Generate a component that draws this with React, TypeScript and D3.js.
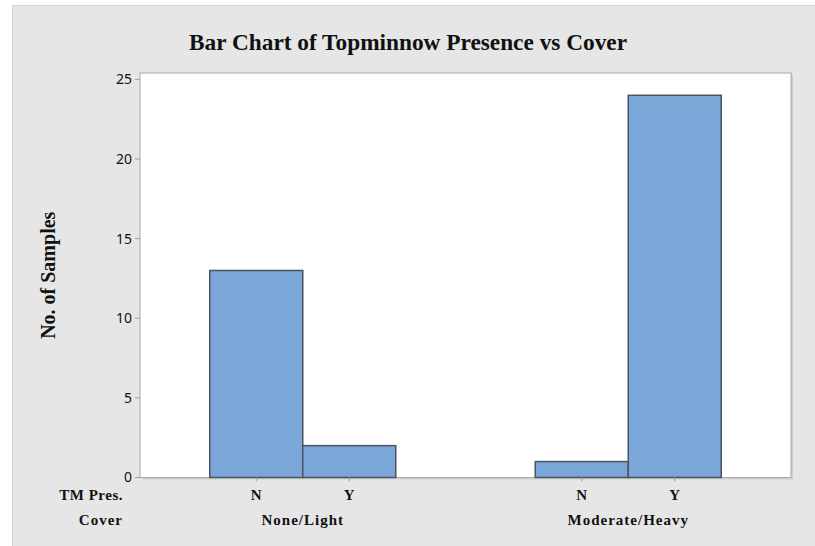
import React from "react";
import * as d3 from "d3";

const covers = ["None/Light", "Moderate/Heavy"];
const presence = ["N", "Y"];
const counts = [
  [13, 2],
  [1, 24],
];
const yTicks = [0, 5, 10, 15, 20, 25];

const W = 815;
const H = 546;
const plot = { left: 140, right: 791, top: 73, bottom: 477.5 };

export default function App() {
  const y = d3.scaleLinear().domain([0, 25.4]).range([plot.bottom, plot.top]);
  const bw = (plot.right - plot.left) / 7;
  const outer = d3
    .scaleBand<string>()
    .domain(covers)
    .range([plot.left + bw * 0.75, plot.right - bw * 0.75])
    .paddingInner(1.5 / 3.5);
  const inner = d3.scaleBand<string>().domain(presence).range([0, outer.bandwidth()]);

  const serif = "'Liberation Serif', 'Times New Roman', serif";
  const sans = "'Noto Sans', 'DejaVu Sans', sans-serif";

  return (
    <div style={{ position: "fixed", left: 0, top: 0 }}>
      <svg width={W} height={H} style={{ display: "block" }}>
        <rect x={0} y={0} width={W} height={H} fill="#ffffff" />
        <rect x={12.5} y={5.5} width={W} height={H} fill="#e6e6e6" stroke="#d4d4d4" strokeWidth={1} />
        <text
          x={408}
          y={50}
          textAnchor="middle"
          fontFamily={serif}
          fontWeight="bold"
          fontSize={24}
          textLength={438}
          lengthAdjust="spacingAndGlyphs"
          fill="#111"
        >
          Bar Chart of Topminnow Presence vs Cover
        </text>
        {/* plot area */}
        <rect x={plot.left + 2} y={plot.top + 2} width={plot.right - plot.left} height={plot.bottom - plot.top} fill="#cfcfcf" />
        <rect
          x={plot.left}
          y={plot.top}
          width={plot.right - plot.left}
          height={plot.bottom - plot.top}
          fill="#ffffff"
          stroke="#a8a8a8"
          strokeWidth={1}
        />
        {/* bars */}
        {covers.map((c, gi) =>
          presence.map((p, pi) => {
            const x0 = (outer(c) as number) + (inner(p) as number);
            const v = counts[gi][pi];
            return (
              <rect
                key={c + p}
                x={x0}
                y={y(v)}
                width={inner.bandwidth()}
                height={y(0) - y(v)}
                fill="#7ba6d8"
                stroke="#4b535f"
                strokeWidth={1.5}
              />
            );
          })
        )}
        {/* y axis ticks */}
        {yTicks.map((t) => (
          <g key={t}>
            <line x1={plot.left - 5} x2={plot.left} y1={y(t)} y2={y(t)} stroke="#a0a0a0" />
            <text
              x={plot.left - 8}
              y={y(t)}
              dy="0.35em"
              textAnchor="end"
              fontFamily={sans}
              fontSize={14}
              fill="#111"
            >
              {t}
            </text>
          </g>
        ))}
        <text
          transform={`translate(55,${(plot.top + plot.bottom) / 2}) rotate(-90)`}
          textAnchor="middle"
          fontFamily={serif}
          fontWeight="bold"
          fontSize={20}
          fill="#111"
        >
          No. of Samples
        </text>
        {/* x axis */}
        {covers.map((c) => (
          <g key={c}>
            {presence.map((p) => {
              const cx = (outer(c) as number) + (inner(p) as number) + inner.bandwidth() / 2;
              return (
                <g key={p}>
                  <line x1={cx} x2={cx} y1={plot.bottom} y2={plot.bottom + 4} stroke="#a0a0a0" />
                  <text
                    x={cx}
                    y={500}
                    textAnchor="middle"
                    fontFamily={serif}
                    fontWeight="bold"
                    fontSize={15}
                    fill="#111"
                  >
                    {p}
                  </text>
                </g>
              );
            })}
            <text
              x={(outer(c) as number) + outer.bandwidth() / 2}
              y={525}
              textAnchor="middle"
              fontFamily={serif}
              fontWeight="bold"
              fontSize={15}
              letterSpacing={1}
              fill="#111"
            >
              {c}
            </text>
          </g>
        ))}
        <text x={123} y={500} textAnchor="end" fontFamily={serif} fontWeight="bold" fontSize={15} letterSpacing={0.5} fill="#111">
          TM Pres.
        </text>
        <text x={123} y={525} textAnchor="end" fontFamily={serif} fontWeight="bold" fontSize={15} letterSpacing={1} fill="#111">
          Cover
        </text>
      </svg>
    </div>
  );
}
